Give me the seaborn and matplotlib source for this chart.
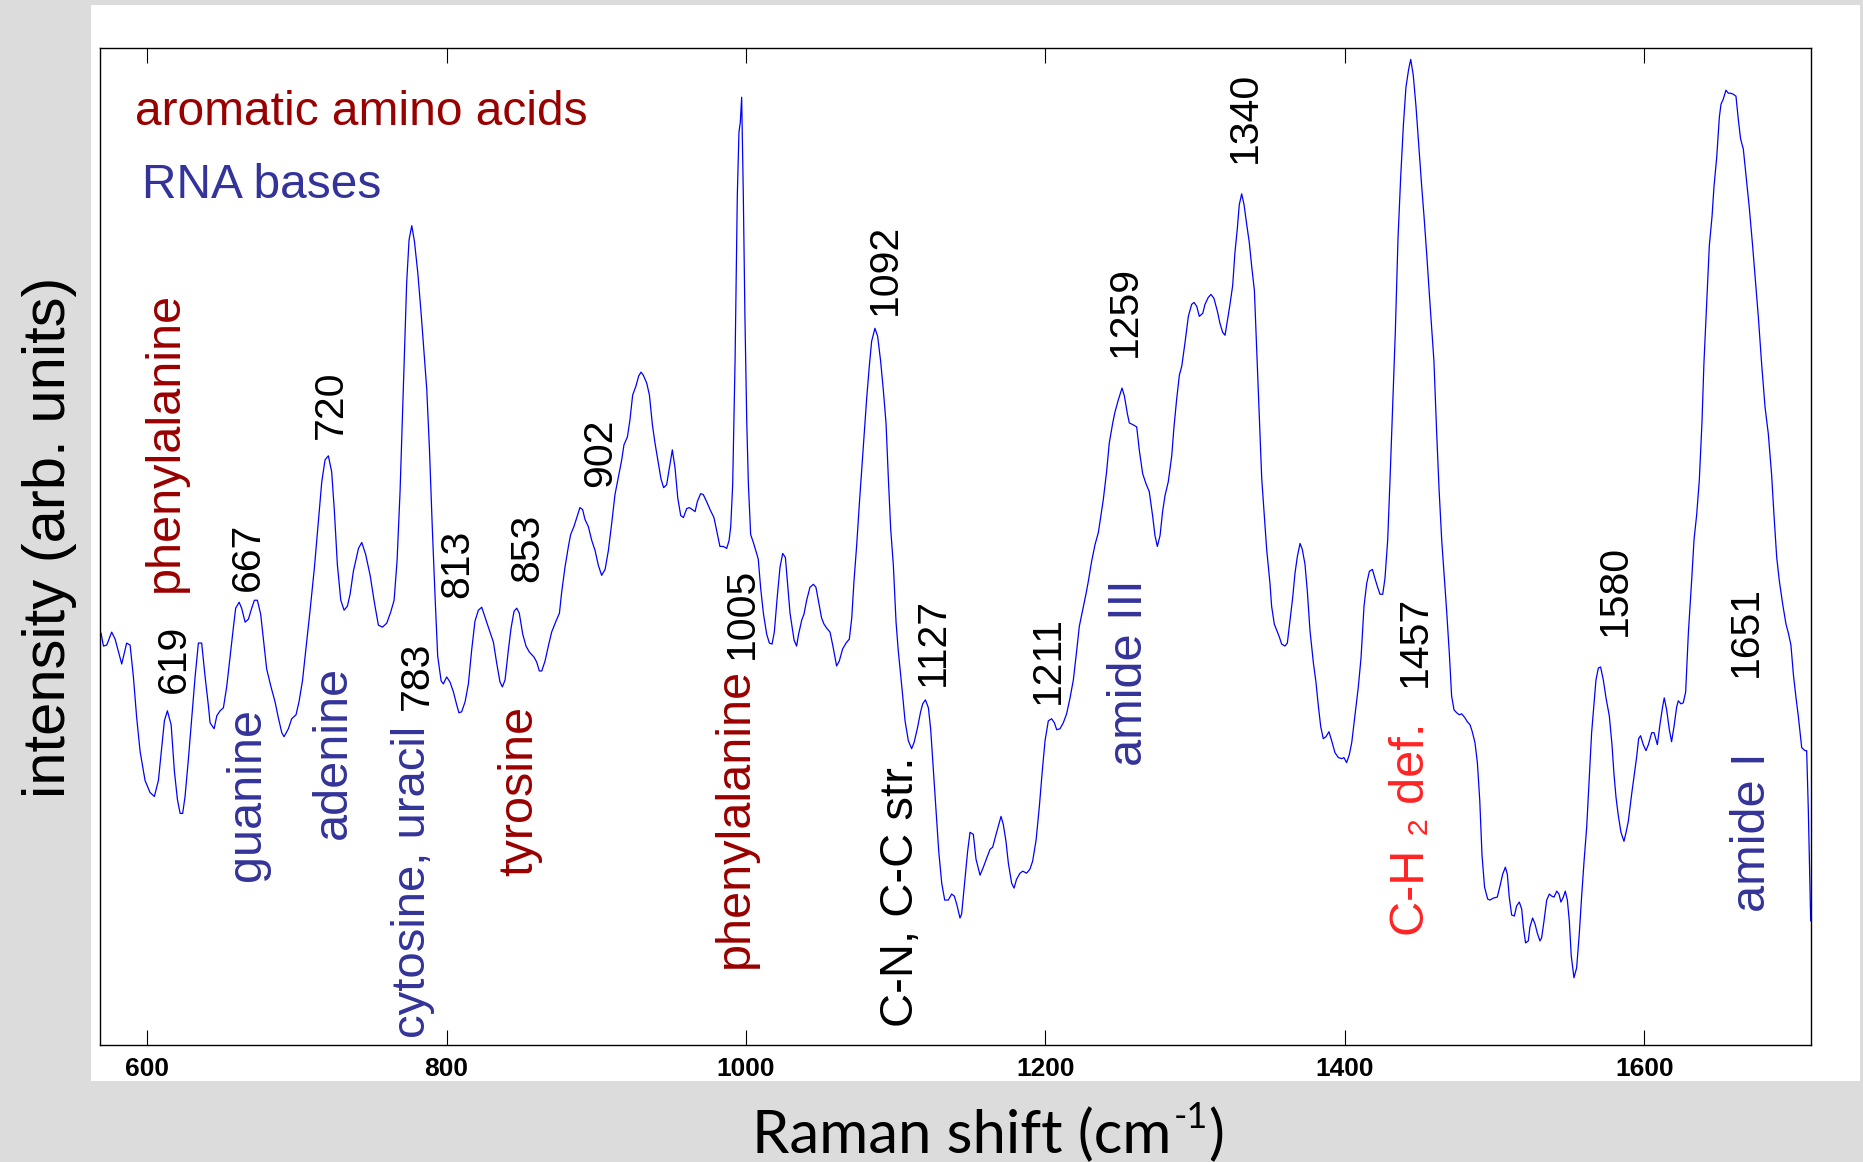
import matplotlib
matplotlib.use("Agg")
import matplotlib.pyplot as plt
from matplotlib.patches import Rectangle
import seaborn as sns
import pandas as pd

# ---------------- data (Raman shift in cm^-1, intensity in arb. units) ----------------
raman_shift = [
    569.3, 570.9, 573.1, 576.4, 578.7, 583.1, 586.4, 588.7, 590.9, 593.1, 595.4, 598.7, 602.0, 604.9,
    607.6, 609.8, 611.6, 613.6, 616.1, 618.3, 620.3, 622.1, 623.8, 625.4, 627.6, 629.9, 632.1, 634.3,
    636.5, 638.8, 641.0, 642.1, 644.8, 646.6, 648.8, 651.0, 653.2, 655.5, 657.7, 659.2, 661.5, 663.2,
    665.5, 667.7, 669.9, 671.7, 673.7, 675.9, 677.7, 679.9, 682.8, 685.5, 687.7, 690.0, 691.5, 694.4,
    696.6, 699.5, 701.5, 703.8, 706.0, 708.9, 711.8, 714.4, 716.7, 718.9, 721.1, 723.3, 725.1, 727.1,
    729.4, 731.6, 733.8, 735.6, 737.8, 741.2, 743.4, 746.0, 749.0, 751.8, 754.5, 757.2, 760.1, 762.7,
    765.0, 767.0, 769.0, 771.2, 773.4, 775.0, 776.8, 778.6, 780.8, 783.0, 785.0, 786.8, 788.6, 790.6,
    792.4, 794.1, 796.4,
    797.9, 800.1, 802.3, 804.6, 806.8, 808.3, 810.1, 812.4, 814.6, 816.8, 819.0, 821.3, 823.5, 825.7,
    828.6, 831.3, 833.5, 835.7, 837.3, 839.1, 841.3, 843.1, 845.1, 846.9, 848.6, 850.9, 853.1, 855.3,
    858.4, 860.2, 862.0, 863.6, 865.8, 868.0, 870.2, 873.1, 875.4, 876.9, 879.1, 881.4, 882.9, 885.1,
    887.4, 889.1, 890.9, 892.5, 894.7, 897.0, 899.2, 901.4, 903.6, 905.9, 908.1, 910.3, 912.5, 914.8,
    917.0, 918.5, 920.8, 922.5, 924.3, 926.5, 928.3, 929.9, 931.4, 933.7, 935.5, 937.5, 939.2, 941.5,
    943.2, 945.0, 947.0, 949.3, 950.8, 952.6, 954.4, 956.4, 958.2, 960.4, 962.2, 964.2, 966.0, 967.5,
    969.7, 971.5, 973.7, 976.0, 978.6, 980.4, 982.6, 984.9, 987.1, 988.7, 989.8, 991.1, 992.7, 994.2,
    995.3, 996.2, 997.1, 998.2, 999.3, 1000.5, 1001.6, 1003.1, 1004.9, 1007.1, 1008.2, 1009.8, 1011.6,
    1013.8, 1015.6, 1017.4, 1018.9, 1020.9, 1022.7, 1024.5, 1026.3, 1027.6, 1029.4, 1032.1, 1033.8,
    1035.0, 1037.2, 1038.7, 1040.5, 1042.7, 1045.0, 1046.7, 1049.0, 1050.5, 1052.1, 1053.9, 1056.1,
    1057.9, 1059.4, 1060.5, 1062.3, 1064.5, 1066.8, 1069.0, 1070.6, 1072.1, 1073.9, 1075.7, 1077.2,
    1078.8, 1080.6, 1082.4, 1083.9, 1086.1, 1087.9, 1089.9, 1091.7, 1093.5, 1095.1, 1096.6, 1098.4,
    1100.2, 1101.7, 1104.0, 1106.2, 1108.4, 1110.6, 1112.2, 1114.4, 1116.6, 1118.0, 1119.8, 1121.8,
    1123.3, 1125.1, 1126.9, 1128.7, 1130.7, 1132.7, 1135.1, 1137.3, 1139.1, 1140.7, 1142.9, 1144.0,
    1146.2, 1148.0, 1149.6, 1151.8, 1153.6, 1156.3, 1158.5, 1160.7, 1163.0, 1164.7, 1167.0, 1168.5,
    1170.3, 1171.8, 1173.6, 1175.2, 1177.4, 1179.0, 1180.7, 1183.0, 1184.8, 1187.4, 1189.6, 1191.4,
    1193.7, 1195.9, 1197.7, 1199.7, 1201.9, 1204.1, 1205.9, 1207.5, 1209.7, 1211.9, 1214.1, 1216.4,
    1218.6, 1220.8, 1222.6, 1224.8, 1227.0, 1228.6, 1230.8, 1233.1, 1235.3, 1238.6, 1240.8, 1242.6,
    1244.9, 1246.4, 1248.6, 1251.1, 1252.7, 1254.7, 1256.0, 1258.7, 1260.9, 1262.7, 1264.9, 1267.1,
    1269.3, 1271.6, 1273.1, 1274.7, 1276.5, 1278.2, 1279.8, 1282.0, 1284.3, 1285.8, 1287.6, 1289.4,
    1291.0, 1293.2, 1295.4, 1297.6, 1299.2, 1301.0, 1302.7, 1305.0, 1306.5, 1308.7, 1310.5, 1312.5,
    1314.8, 1316.5, 1318.3, 1319.9, 1321.4, 1323.2, 1325.0, 1326.5, 1328.1, 1329.4, 1331.0, 1332.6,
    1334.3, 1336.1, 1337.7, 1339.5, 1341.0, 1342.8, 1344.4, 1345.9, 1347.7, 1349.9, 1351.0, 1352.8,
    1354.4, 1356.2, 1357.7, 1359.9, 1361.5, 1363.3, 1365.1, 1366.6, 1368.2, 1370.0, 1371.5, 1373.3,
    1374.9, 1376.6, 1378.9, 1380.6, 1382.2, 1383.8, 1385.5, 1387.3, 1389.3, 1391.1, 1393.3, 1395.6,
    1397.8, 1399.3, 1401.1, 1402.9, 1404.5, 1406.7, 1408.9, 1410.7, 1412.7, 1414.5, 1416.3, 1418.3,
    1420.0, 1421.8, 1423.4, 1425.2, 1426.7, 1428.5, 1430.1, 1431.8, 1433.6, 1435.4, 1437.2, 1439.0,
    1440.7, 1442.5, 1443.9, 1445.6, 1447.4, 1449.2, 1451.2, 1452.8, 1454.5, 1456.8, 1459.4, 1461.2,
    1462.8, 1464.6, 1466.1, 1467.9, 1469.7, 1471.2, 1472.8, 1474.6, 1476.4, 1477.9, 1480.1, 1481.7,
    1483.5, 1485.0, 1486.8, 1488.4, 1490.0, 1491.5, 1493.2, 1495.3,
    1496.8, 1499.1, 1501.7, 1503.5, 1505.3, 1507.1, 1508.4, 1509.7, 1511.3, 1513.1, 1514.6, 1516.4,
    1518.0, 1519.1, 1520.6, 1522.4, 1523.5, 1525.3, 1526.9, 1528.4, 1530.2, 1531.3, 1532.9, 1534.7,
    1536.5, 1538.0, 1539.6, 1541.4, 1542.9, 1544.2, 1545.8, 1547.1, 1548.5, 1549.8, 1551.1, 1552.9,
    1554.7, 1556.5, 1558.0, 1559.6, 1561.4, 1563.2, 1564.7, 1566.3, 1567.6, 1569.2, 1570.7, 1572.5,
    1574.3, 1576.5, 1578.3, 1579.6, 1581.0, 1582.5, 1584.3, 1586.3, 1587.7, 1589.2, 1591.4, 1593.2,
    1594.8, 1596.1, 1597.4, 1599.2, 1601.0, 1602.6, 1604.8, 1606.4, 1608.6, 1610.4, 1612.1, 1613.2,
    1614.8, 1616.6, 1618.1, 1619.7, 1621.5, 1622.6, 1624.4, 1625.9, 1627.5, 1629.3, 1631.5, 1633.1,
    1634.8, 1636.6, 1638.4, 1639.7, 1641.5, 1643.3, 1645.1, 1646.4, 1648.2, 1650.0, 1651.1, 1652.6,
    1654.4, 1656.0, 1657.5, 1659.3, 1661.1, 1662.7, 1664.2, 1666.0, 1667.8, 1670.0, 1672.2, 1673.8,
    1676.0, 1678.2, 1680.5, 1682.7, 1684.9, 1686.5, 1688.3, 1690.0, 1692.3, 1694.5, 1696.1, 1697.8,
    1699.4, 1701.2, 1702.7, 1705.0, 1707.2, 1708.3, 1709.4, 1711.0,
]
intensity = [
    41.3, 40.0, 40.1, 41.4, 40.7, 38.2, 40.3, 40.1, 36.9, 32.8, 29.4, 26.5, 25.3, 24.9,
    26.5, 29.8, 32.5, 33.5, 32.1, 27.4, 24.6, 23.2, 23.2, 24.9, 28.6, 32.8, 36.9, 40.3,
    40.3, 36.9, 34.0, 32.3, 31.7, 33.0, 33.5, 33.8, 35.9, 39.0, 41.9, 43.8, 44.4, 43.8,
    42.4, 42.7, 43.8, 44.6, 44.6, 43.2, 40.7, 37.7, 35.9, 34.4, 32.8, 31.3, 30.9, 31.7,
    32.7, 33.1, 34.4, 36.5, 39.6, 43.6, 47.9, 52.5, 56.5, 58.7, 59.1, 57.5, 53.6, 48.2,
    44.6, 43.6, 44.0, 45.2, 47.5, 49.8, 50.4, 49.2, 47.1, 44.4, 42.1, 41.9, 42.3, 43.4,
    44.6, 48.6, 55.6, 66.1, 76.5, 80.8, 82.2, 80.6, 77.5, 73.5, 69.4, 65.8, 59.8, 51.5,
    44.8, 39.0, 36.5,
    36.2, 36.9, 36.4, 35.4, 34.1, 33.3, 33.4, 34.4, 36.2, 39.6, 42.5, 43.6, 43.9, 42.9,
    41.6, 40.4, 38.3, 36.4, 35.9, 36.6, 39.6, 41.8, 43.5, 43.8, 43.3, 41.2, 40.0, 39.4,
    38.9, 38.4, 37.5, 37.5, 38.5, 40.0, 41.4, 42.5, 43.3, 45.4, 47.9, 50.0, 51.2, 52.0,
    53.1, 53.9, 53.7, 52.7, 52.0, 50.6, 49.6, 48.1, 47.1, 47.7, 49.6, 52.3, 55.2, 57.0,
    58.7, 60.2, 61.0, 62.7, 65.2, 66.1, 67.1, 67.5, 67.2, 66.4, 65.2, 62.2, 60.4, 58.3,
    56.8, 55.9, 56.2, 58.3, 59.7, 57.9, 54.9, 53.1, 52.9, 53.8, 53.9, 53.7, 53.5, 54.5,
    55.3, 55.2, 54.5, 53.7, 52.9, 51.6, 50.0, 50.0, 49.8, 50.6, 52.0, 56.2, 68.7, 85.3,
    91.6, 92.6, 95.1, 85.3, 72.9, 62.5, 56.2, 51.2, 50.4, 49.3, 48.7, 45.8, 43.3,
    41.2, 40.3, 40.2, 41.4, 45.0, 47.9, 49.3, 48.9, 46.6, 43.3, 40.6, 40.0,
    41.1, 42.6, 43.2, 44.6, 45.9, 46.2, 45.9, 44.0, 42.8, 42.2, 41.8, 41.4,
    40.1, 38.9, 38.0, 38.5, 39.7, 40.3, 40.7, 42.8, 46.5, 50.1, 54.3, 57.5,
    60.8, 64.9, 68.2, 70.6, 71.9, 71.1, 68.6, 65.7, 62.4, 56.7, 51.8, 48.1,
    42.4, 39.5, 36.0, 32.5, 30.5, 29.7, 30.3, 31.7, 33.4, 34.2, 34.6, 33.8,
    31.7, 27.6, 23.5, 19.4, 16.2, 14.5, 14.5, 15.1, 14.9, 14.1, 12.7, 13.1,
    16.6, 19.4, 21.3, 21.1, 18.6, 17.0, 17.8, 18.7, 19.6, 19.8, 21.1, 21.9,
    22.9, 22.1, 20.4, 18.2, 16.2, 15.7, 16.6, 17.2, 17.4, 17.2, 17.6, 18.4,
    20.5, 23.9, 27.2, 30.5, 32.5, 32.7, 32.3, 31.6, 31.7, 32.3, 33.2, 34.8,
    36.6, 39.5, 42.0, 43.6, 45.2, 46.5, 48.5, 50.2, 51.4, 54.7, 57.5, 60.4,
    62.4, 63.5, 64.7, 65.9, 65.1, 63.3, 62.4, 62.2, 62.0, 59.6, 57.3, 56.3,
    55.5, 53.0, 51.1, 50.0, 51.1, 53.5, 55.1, 56.5, 59.1, 62.0, 64.8, 67.2,
    68.1, 70.5, 73.1, 74.3, 74.5, 74.1, 73.1, 73.4, 74.3, 75.0, 75.3, 74.9,
    73.6, 72.4, 71.5, 71.2, 72.6, 74.3, 76.2, 79.5, 81.9, 84.3, 85.4, 84.3,
    82.4, 80.5, 78.1, 75.7, 70.0, 62.9, 56.8, 53.5, 49.7, 46.3, 44.0, 42.2,
    41.6, 40.9, 40.2, 40.0, 40.3, 42.6, 44.9, 47.3, 49.0, 50.3, 49.7, 48.2,
    45.4, 41.6, 38.3, 36.4, 34.0, 31.9, 30.7, 30.9, 31.4, 30.5, 29.3, 28.8,
    28.7, 28.8, 28.3, 29.1, 30.3, 33.1, 35.9, 38.8, 44.0, 46.3, 47.5, 47.7,
    46.8, 45.9, 45.2, 45.2, 46.8, 50.6, 56.8, 63.9, 71.5, 80.9, 87.1, 92.3,
    96.1, 97.9, 98.9, 97.3, 94.2, 90.4, 86.2, 83.1, 79.5, 74.3, 68.6, 61.5,
    55.8, 50.6, 47.3, 43.5, 39.2, 35.0, 33.6, 33.3, 33.1, 33.2, 32.8, 32.4,
    32.1, 31.4, 30.3, 28.3, 24.5, 19.0, 15.8, 14.6,
    14.5, 14.7, 14.8, 15.9, 17.1, 17.8, 17.1, 14.8, 13.0, 12.9, 13.9, 14.3,
    13.6, 11.8, 10.2, 10.4, 11.8, 12.7, 12.1, 11.2, 10.4, 10.7, 12.4, 14.5,
    15.1, 14.9, 14.8, 15.4, 15.1, 14.3, 14.8, 15.4, 14.5, 12.4, 8.9, 6.7,
    7.7, 11.2, 14.8, 18.3, 21.8, 27.1, 31.3, 34.2, 36.6, 37.8, 37.9, 36.6,
    34.8, 33.0, 30.1, 27.2, 24.8, 23.0, 21.3, 20.4, 21.3, 22.4, 25.1, 27.1,
    28.9, 30.7, 31.0, 30.1, 29.5, 30.1, 31.3, 31.3, 30.1, 32.2, 33.9, 34.8,
    33.6, 31.6, 30.4, 31.9, 33.9, 34.5, 34.2, 34.3, 35.4, 41.3, 46.6, 50.7,
    53.1, 56.6, 62.5, 68.4, 74.3, 80.2, 83.1, 86.1, 89.0, 93.1, 94.4, 94.9,
    95.8, 95.5, 95.5, 95.4, 95.2, 92.8, 90.9, 89.9, 87.2, 84.0, 80.2, 77.2,
    73.1, 68.4, 64.0, 61.3, 57.2, 53.1, 48.9, 46.6, 44.2, 42.2, 41.3, 40.1,
    37.2, 34.8, 33.0, 29.8, 29.5, 29.5, 23.6, 12.4,
]
x_ticks = [600, 800, 1000, 1200, 1400, 1600]

# peak / band annotations (text, position in data units, colour)
label_text = ["619", "phenylalanine", "667", "guanine", "720", "adenine", "783",
              "cytosine, uracil", "813", "853", "tyrosine", "902", "1005", "phenylalanine",
              "1092", "C-N, C-C str.", "1127", "1211", "1259", "amide III", "1340",
              "1457", "C-H \u2082 def.", "1580", "1651", "amide I"]
label_x = [618.1, 612.6, 667.3, 667.0, 723.1, 724.7, 780.3,
           777.4, 807.5, 853.8, 849.0, 902.7, 997.0, 993.0,
           1093.0, 1103.4, 1124.7, 1201.5, 1253.0, 1256.4, 1333.0,
           1446.4, 1444.5, 1580.0, 1667.5, 1672.0]
label_y = [35.3, 45.4, 45.5, 16.4, 60.8, 20.6, 33.6,
           0.7, 44.8, 46.4, 16.9, 56.0, 38.7, 7.7,
           73.2, 1.8, 36.0, 34.2, 69.0, 28.0, 88.5,
           35.9, 10.9, 41.0, 36.9, 13.3]
DARK_RED, NAVY, BLACK, RED = "#990000", "#333399", "black", "#ff2424"
label_color = [BLACK, DARK_RED, BLACK, NAVY, BLACK, NAVY, BLACK,
               NAVY, BLACK, BLACK, DARK_RED, BLACK, BLACK, DARK_RED,
               BLACK, BLACK, BLACK, BLACK, BLACK, NAVY, BLACK,
               BLACK, RED, BLACK, BLACK, NAVY]

# ---------------- style ----------------
sns.set_style("white")
plt.rcParams["font.family"] = ["Liberation Sans", "DejaVu Sans"]

W, H = 1863, 1162
fig = plt.figure(figsize=(W / 100, H / 100), dpi=100)
fig.patch.set_facecolor("#dcdcdc")
fig.add_artist(Rectangle((91 / W, 1 - 1081 / H), (1860 - 91) / W, (1081 - 5) / H,
                         transform=fig.transFigure, facecolor="white",
                         edgecolor="none", zorder=-5))

ax = fig.add_axes([100 / W, 1 - 1044.5 / H, (1811.3 - 100) / W, (1044.5 - 48.4) / H])
ax.set_facecolor("white")

df = pd.DataFrame({"shift": raman_shift, "intensity": intensity})
sns.lineplot(data=df, x="shift", y="intensity", ax=ax, color="#0000ff",
             linewidth=0.9, sort=False, estimator=None)

ax.set_xlim(568.6, 1711.4)
ax.set_ylim(0, 100)
ax.set_xticks(x_ticks)
ax.set_xticklabels([str(t) for t in x_ticks])
ax.set_yticks([])
ax.set_xlabel("")
ax.set_ylabel("")
ax.tick_params(axis="x", direction="in", top=True, bottom=True, length=10.8,
               width=0.8, pad=9, labelsize=19, colors="black")
for lbl in ax.get_xticklabels():
    lbl.set_fontweight("bold")
for sp in ax.spines.values():
    sp.set_visible(True)
    sp.set_color("black")
    sp.set_linewidth(1.0)

# horizontal legend-like texts
ax.text(592.0, 92.3, "aromatic amino acids", color=DARK_RED, fontsize=34.5,
        ha="left", va="baseline")
ax.text(596.6, 85.0, "RNA bases", color=NAVY, fontsize=34.5,
        ha="left", va="baseline")

# vertical annotations
for s, x, y, c in zip(label_text, label_x, label_y, label_color):
    if s.isdigit():
        fs = 29.5
    elif s in ("cytosine, uracil", "C-N, C-C str."):
        fs = 34
    else:
        fs = 35
    ax.text(x, y, s, rotation=90, ha="center", va="bottom", color=c, fontsize=fs,
            family=["Liberation Sans", "DejaVu Sans"])

# axis titles
fig.text(50 / W, 1 - 537 / H, "intensity (arb. units)", rotation=90, ha="center",
         va="center", fontsize=43, color="black", family="Liberation Sans")

# x title: "Raman shift (cm" + superscript "-1" + ")"
renderer = fig.canvas.get_renderer()
base_y = 1 - 1153 / H
parts = [("Raman shift (cm", 43, 0.0), ("-1", 26, 25.0), (")", 43, 0.0)]
objs = []
for s, fs, rise in parts:
    t = fig.text(0, base_y + rise / H, s, fontsize=fs, family="Lato", color="black",
                 ha="left", va="baseline")
    objs.append(t)
widths = [t.get_window_extent(renderer).width for t in objs]
gap = 2.0
total = sum(widths) + gap
x_cur = 988 - total / 2
for i, t in enumerate(objs):
    t.set_x(x_cur / W)
    x_cur += widths[i] + (gap if i == 0 else 0)

fig.savefig("out.png", dpi=100, facecolor=fig.get_facecolor())
